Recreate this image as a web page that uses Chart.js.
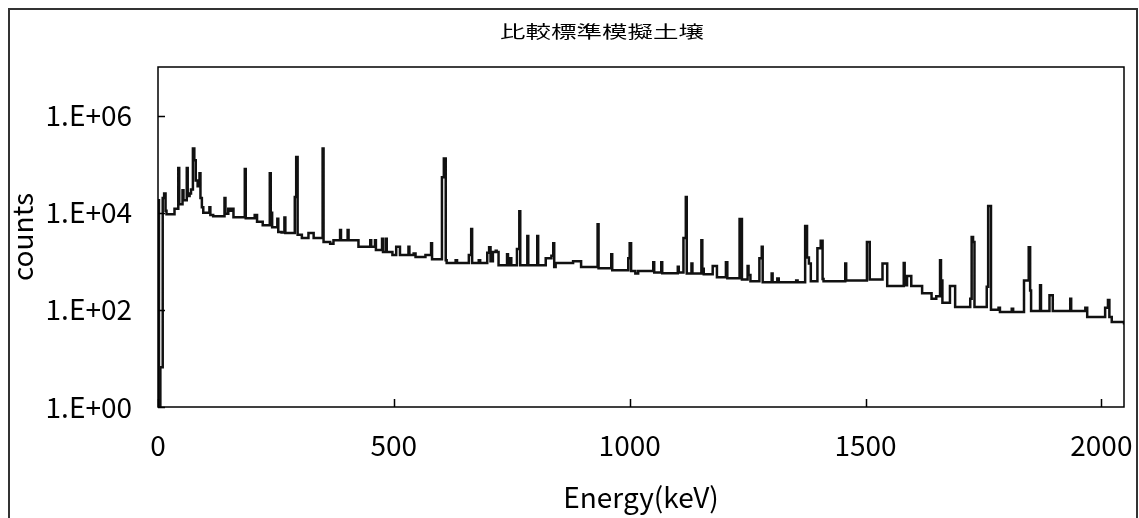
<!DOCTYPE html>
<html>
<head>
<meta charset="utf-8">
<script src="https://cdn.jsdelivr.net/npm/chart.js@4"></script>
<style>
  html, body { margin: 0; padding: 0; background: #fff; overflow: hidden; }
  #chart { display: block; }
</style>
</head>
<body>
<canvas id="chart" width="1139" height="518"></canvas>
<script>
// spectrum: energy (keV) and counts, drawn as steps
const energy = [
  0, 2, 5, 10, 13, 16, 18, 35, 43, 45, 52, 54, 61, 63, 67, 70, 74, 77, 80, 84,
  88, 90, 93, 96, 109, 111, 117, 141, 143, 149, 153, 157, 160, 184, 186, 205, 210, 222, 237, 239,
  242, 253, 255, 262, 268, 270, 290, 293, 296, 305, 319, 330, 349, 351, 365, 372, 386, 388, 402, 404,
  425, 450, 452, 460, 462, 475, 477, 483, 485, 497, 505, 513, 531, 533, 542, 546, 567, 579, 581, 602,
  606, 610, 612, 631, 634, 659, 664, 666, 680, 683, 698, 702, 705, 710, 716, 718, 722, 740, 742, 747,
  749, 761, 766, 768, 783, 785, 804, 806, 822, 834, 838, 840, 843, 880, 897, 932, 934, 961, 963, 997,
  1000, 1003, 1012, 1018, 1050, 1052, 1067, 1069, 1102, 1104, 1114, 1119, 1121, 1131, 1133, 1152, 1154, 1157, 1176, 1185,
  1204, 1207, 1233, 1238, 1250, 1252, 1256, 1275, 1280, 1282, 1301, 1303, 1313, 1316, 1353, 1356, 1372, 1376, 1380, 1384,
  1398, 1405, 1409, 1411, 1457, 1459, 1503, 1509, 1536, 1546, 1581, 1583, 1588, 1597, 1620, 1640, 1650, 1658, 1660, 1663,
  1679, 1690, 1722, 1725, 1728, 1731, 1757, 1760, 1766, 1782, 1785, 1810, 1813, 1836, 1846, 1849, 1851, 1870, 1872, 1890,
  1897, 1934, 1936, 1966, 1970, 2008, 2014, 2017, 2022, 2048
];
const counts = [
  18000, 1, 6.6, 20000, 25000, 11000, 9300, 12000, 83000, 15000, 29000, 18000, 83000, 22000, 25000, 30000, 210000, 120000, 46000, 35000,
  65000, 20000, 13000, 10000, 13000, 9000, 8500, 20000, 9500, 12000, 11000, 12000, 8100, 79000, 7700, 9000, 6500, 5500, 65000, 10000,
  5000, 7500, 4000, 3900, 8000, 3800, 21000, 140000, 3500, 3000, 3800, 3000, 210000, 2500, 2300, 2700, 4400, 2700, 4400, 2700,
  2000, 2700, 2000, 2700, 1700, 2900, 1550, 2900, 1550, 1350, 2000, 1350, 2000, 1350, 1450, 1230, 1350, 2350, 1100, 54000,
  130000, 1050, 920, 1050, 920, 1350, 4600, 920, 1050, 920, 1500, 1950, 1000, 1550, 1650, 1550, 830, 1400, 830, 1160,
  830, 1800, 10700, 830, 3300, 830, 3300, 830, 1150, 1300, 2350, 760, 920, 1000, 760, 5800, 720, 1400, 650, 1150,
  2350, 630, 560, 630, 960, 590, 960, 570, 770, 590, 3000, 21000, 560, 900, 560, 2700, 700, 540, 800, 470,
  960, 450, 7400, 420, 800, 520, 390, 1150, 2000, 370, 560, 370, 440, 370, 400, 370, 5300, 1200, 900, 390,
  1850, 2650, 430, 390, 900, 400, 2500, 420, 900, 310, 920, 320, 500, 310, 220, 170, 190, 1050, 400, 140,
  310, 115, 170, 3150, 2500, 115, 300, 13700, 100, 110, 90, 105, 90, 400, 1950, 250, 95, 320, 95, 200,
  95, 170, 95, 110, 71, 110, 160, 71, 56, 50
];

const xTicks = [0, 500, 1000, 1500, 2000];
const yTicks = [1, 1e2, 1e4, 1e6];

const TITLE = "比較標準模擬土壌";
const X_TITLE = "Energy(keV)";
const Y_TITLE = "counts";

const FONT = "'Noto Sans CJK JP', 'Noto Sans', sans-serif";
const labelFont = { family: FONT, size: 28, weight: "normal" };

const points = energy.map((e, i) => ({ x: e, y: counts[i] }));

function sciLabel(v) {
  const p = Math.round(Math.log10(v));
  return "1.E+" + String(p).padStart(2, "0");
}

// outer frame, stretched title, plot box and inward tick marks
const framePlugin = {
  id: "frame",
  beforeDraw(chart) {
    const c = chart.ctx;
    c.save();
    c.fillStyle = "#fff";
    c.fillRect(0, 0, chart.width, chart.height);
    c.strokeStyle = "#333";
    c.lineWidth = 2;
    c.strokeRect(9, 9, 1128, 530);
    // title is wide and flat in the original
    c.translate(602, 32);
    c.scale(1.5, 1);
    c.fillStyle = "#000";
    c.font = "17px " + FONT;
    c.textAlign = "center";
    c.textBaseline = "middle";
    c.fillText(TITLE, 0, 0);
    c.restore();
  },
  afterDraw(chart) {
    const c = chart.ctx;
    const a = chart.chartArea;
    const xs = chart.scales.x;
    const ys = chart.scales.y;
    c.save();
    c.strokeStyle = "#000";
    c.lineWidth = 1.5;
    c.strokeRect(a.left, a.top, a.right - a.left, a.bottom - a.top);
    c.beginPath();
    yTicks.forEach(v => {
      const y = Math.round(ys.getPixelForValue(v)) + 0.5;
      c.moveTo(a.left, y);
      c.lineTo(a.left + 7, y);
    });
    xTicks.forEach(v => {
      const x = Math.round(xs.getPixelForValue(v)) + 0.5;
      c.moveTo(x, a.bottom);
      c.lineTo(x, a.bottom - 8);
    });
    c.stroke();
    c.restore();
  }
};

const ctx = document.getElementById("chart").getContext("2d");

new Chart(ctx, {
  type: "line",
  data: {
    datasets: [{
      data: points,
      borderColor: "#111",
      borderWidth: 2.5,
      pointRadius: 0,
      stepped: true,
      fill: false
    }]
  },
  options: {
    responsive: false,
    animation: false,
    layout: { padding: { left: 0, right: 15, top: 67, bottom: 0 } },
    plugins: {
      legend: { display: false },
      tooltip: { enabled: false },
      title: { display: false }
    },
    scales: {
      x: {
        type: "linear",
        min: 0,
        max: 2048,
        grid: { display: false, drawTicks: false },
        border: { display: false },
        ticks: { color: "#000", font: labelFont, padding: 22, maxRotation: 0, callback: v => String(v) },
        title: { display: true, text: X_TITLE, color: "#000", font: labelFont, padding: { top: 0, bottom: 4 } },
        afterBuildTicks: s => { s.ticks = xTicks.map(v => ({ value: v })); },
        afterFit: s => {
          s.height = 111;
          s.paddingLeft = 0;
          s.paddingRight = 0;
        }
      },
      y: {
        type: "logarithmic",
        min: 1,
        max: 1e7,
        grid: { display: false, drawTicks: false },
        border: { display: false },
        ticks: { color: "#000", font: labelFont, padding: 26, callback: v => sciLabel(v) },
        title: { display: true, text: Y_TITLE, color: "#000", font: labelFont, padding: { top: 6, bottom: 0 } },
        afterBuildTicks: s => { s.ticks = yTicks.map(v => ({ value: v })); },
        afterFit: s => {
          s.width = 158;
          s.paddingTop = 0;
          s.paddingBottom = 0;
        }
      }
    }
  },
  plugins: [framePlugin]
});
</script>
</body>
</html>
